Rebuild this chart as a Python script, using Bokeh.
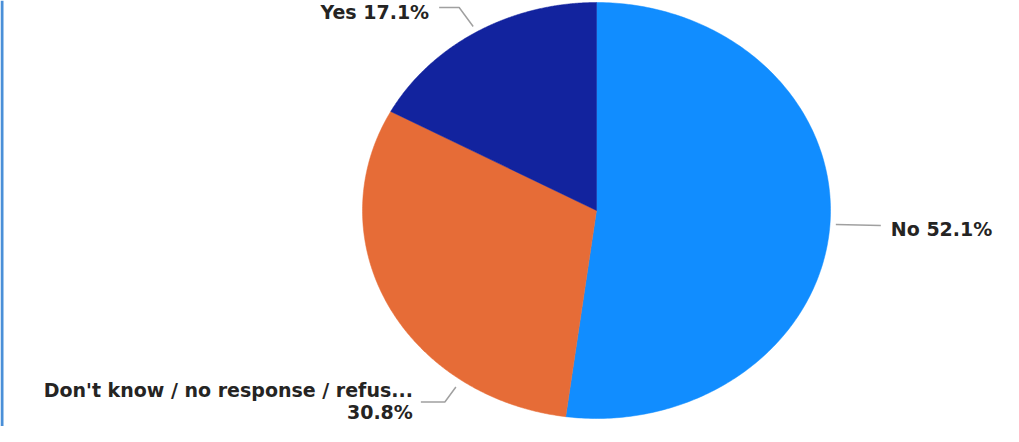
import numpy as np
from bokeh.plotting import figure
from bokeh.models import Range1d, ColumnDataSource
from bokeh.embed import file_html
from bokeh.resources import INLINE
from bokeh.core.properties import value

# ---- data ----
categories = ["No", "Don't know / no response / refus...", "Yes"]
shares = [52.1, 30.8, 17.1]
colors = ["#118DFF", "#E66C37", "#12239E"]

# ---- layout / style ----
W, H = 1003, 426
CX, CY, RX, RY = 596, 210, 234, 208
FONT = "DejaVu Sans"
FSIZE = "19px"
TEXT_COLOR = "#252423"
LEADER_COLOR = "#a0a0a0"

p = figure(width=W, height=H, x_range=Range1d(0, W), y_range=Range1d(H, 0),
           output_backend="svg", toolbar_location=None, min_border=0)
p.axis.visible = False
p.grid.visible = False
p.outline_line_color = None
p.background_fill_color = "white"
p.border_fill_color = "white"

# left accent border
p.quad(left=0, right=3, top=0, bottom=H, fill_color="#4a8fd8", line_color=None)

total = sum(shares)
xs, ys, mids = [], [], []
acc = 0.0
for s in shares:
    a0 = acc / total * 2 * np.pi
    a1 = (acc + s) / total * 2 * np.pi
    t = np.linspace(a0, a1, 240)
    xs.append([CX] + list(CX + RX * np.sin(t)))
    ys.append([CY] + list(CY - RY * np.cos(t)))
    mids.append((a0 + a1) / 2)
    acc += s

src = ColumnDataSource(dict(xs=xs, ys=ys, color=colors))
p.patches("xs", "ys", source=src, fill_color="color", line_color="color", line_width=0.5)

def ell(a, k):
    return CX + k * RX * np.sin(a), CY - k * RY * np.cos(a)

# label layout: (anchor angle shift in deg from slice middle, radial factor, elbow dx, dy, horizontal length)
layout = [
    (0.0, 1.025, 0, 0, 45),
    (-27.7, 1.04, -11, 15, -24),
    (0.0, 1.03, -14, -19, -20),
]

lx, ly = [], []
tx, ty, tt, ta = [], [], [], []
for i, (cat, s) in enumerate(zip(categories, shares)):
    da, k, ex, ey, hl = layout[i]
    a = mids[i] + np.deg2rad(da)
    sx, sy = ell(a, k)
    exx, eyy = sx + ex, sy + ey
    endx = exx + hl
    endy = eyy + (1 if i == 0 else 0)
    lx.append([sx, exx, endx])
    ly.append([sy, eyy, endy])
    pct = f"{s:.1f}%"
    if hl > 0:
        tx.append(endx + 10); ty.append(endy + 3); tt.append(f"{cat} {pct}"); ta.append("left")
    else:
        if len(cat) > 20:
            tx.append(endx - 8); ty.append(endy - 12); tt.append(cat); ta.append("right")
            tx.append(endx - 8); ty.append(endy + 10); tt.append(pct); ta.append("right")
        else:
            tx.append(endx - 10); ty.append(endy + 5); tt.append(f"{cat} {pct}"); ta.append("right")

p.multi_line(lx, ly, line_color=LEADER_COLOR, line_width=1.5)

tsrc = ColumnDataSource(dict(x=tx, y=ty, text=tt, align=ta))
p.text("x", "y", text="text", source=tsrc, text_align="align", text_baseline="alphabetic",
       text_font=value(FONT), text_font_size=FSIZE, text_font_style="bold", text_color=TEXT_COLOR)

open("out.html", "w").write(file_html(p, INLINE))
